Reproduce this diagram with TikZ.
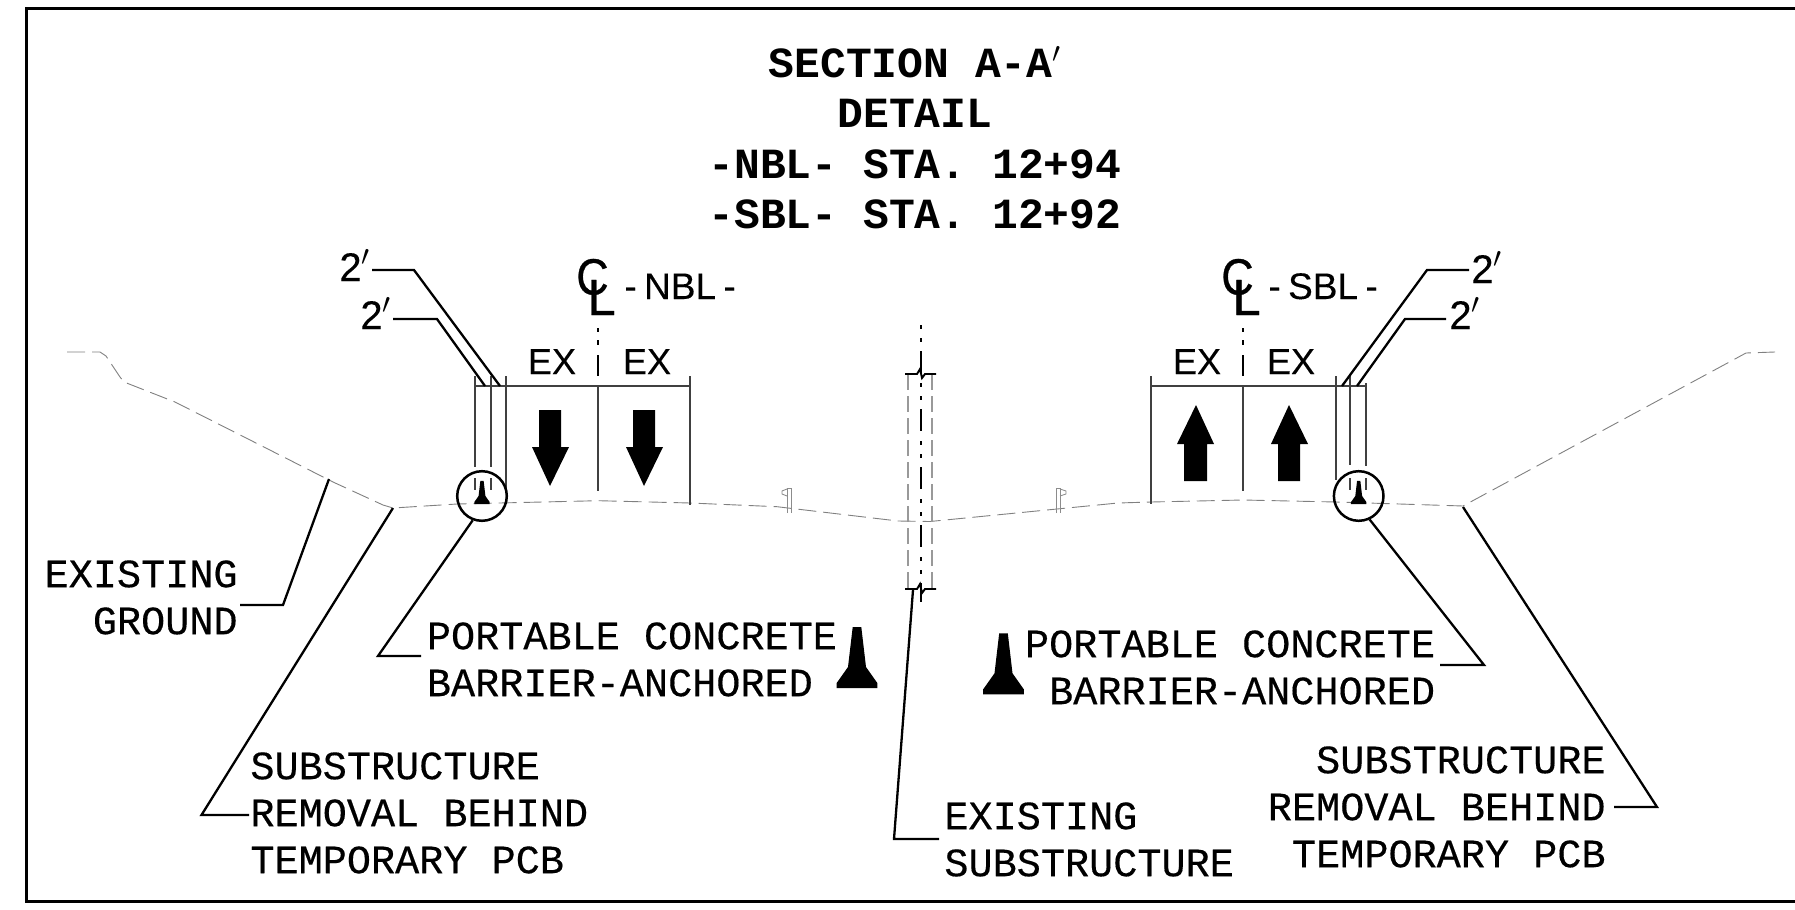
\documentclass[tikz,border=0pt]{standalone}
\usepackage{amsmath,amssymb}
\usepackage{xcolor}
\usepackage{fontspec}
\usepackage{tikz}
\newfontfamily\planmono[FakeBold=0.35]{Liberation Mono}
\newfontfamily\planbold{Liberation Mono Bold}
\newfontfamily\plansans[FakeBold=0.2]{Liberation Sans}
\newfontfamily\planheavy[FakeBold=0.6]{Liberation Sans}
\begin{document}
\begin{tikzpicture}[x=0.5pt,y=-0.5pt,
  frameline/.style={black,line width=1.25pt},
  leader/.style={black,line width=1.15pt},
  dimline/.style={black!75,line width=0.6pt},
  groundline/.style={black!50,line width=0.45pt,dash pattern=on 9pt off 3.5pt},
  medianline/.style={black!40,line width=0.6pt,dash pattern=on 8pt off 3pt},
  breakline/.style={black,line width=0.95pt},
  title/.style={inner sep=0pt,align=center,anchor=south,font=\planbold\fontsize{21.5}{25.25}\selectfont},
  lbl/.style={inner sep=0pt,font=\planmono\fontsize{20.1}{23.5}\selectfont},
  lbll/.style={lbl,align=left,anchor=south west},
  lblr/.style={lbl,align=right,anchor=south east},
  sanslbl/.style={inner sep=0pt,anchor=base west,font=\plansans\fontsize{18.5}{20}\selectfont},
  twolbl/.style={inner sep=0pt,anchor=base west,font=\plansans\fontsize{20}{22}\selectfont},
  exlbl/.style={inner sep=0pt,anchor=base,font=\plansans\fontsize{18}{20}\selectfont},
  clsym/.style={inner sep=0pt,font=\planheavy\fontsize{25.5}{28}\selectfont},
  detail/.style={draw=black,line width=1.25pt,circle,minimum size=24.8pt,inner sep=0pt},
  barrier/.pic={\fill[black] (-20.3,0) -- (-20.3,-5) -- (-9,-21) -- (-4.3,-61) -- (4.3,-61) -- (9,-21) -- (20.3,-5) -- (20.3,0) -- cycle;}]
\useasboundingbox (0,0) rectangle (1795,910);
\draw [frameline] (1795,8.5) -- (26.5,8.5) -- (26.5,901.7) -- (1795,901.7);
\node [title] (sectitle) at (915,229.5) {SECTION A-A$'$\\DETAIL\\-NBL- STA. 12+94\\-SBL- STA. 12+92};
\draw [groundline] (67,352) -- (100,352) -- (106,356) -- (120,377) -- (124,382) -- (175,402) -- (333,482) -- (383,505) -- (393,508) -- (457,504) -- (598,500.7) -- (690,503) -- (777,506.7) -- (898,521) -- (930,521.5) -- (1118,503) -- (1151,502) -- (1243,500) -- (1336,502) -- (1463,506) -- (1746,353) -- (1775,352);
\draw [dimline] (475,386) -- (690,386);
\draw [dimline] (475,376) -- (475,467);
\draw [dimline] (491,376) -- (491,467);
\draw [dimline] (506,376) -- (506,492);
\draw [dimline] (598,386) -- (598,491);
\draw [dimline] (690,376) -- (690,505);
\draw [dimline] (475,478) -- (475,490);
\draw [dimline] (491,478) -- (491,490);
\draw [dimline] (1151,386) -- (1366,386);
\draw [dimline] (1151,376) -- (1151,504);
\draw [dimline] (1243,386) -- (1243,491);
\draw [dimline] (1336,376) -- (1336,480);
\draw [dimline] (1350,376) -- (1350,465);
\draw [dimline] (1366,383) -- (1366,466);
\draw [dimline] (1350,478) -- (1350,490);
\draw [dimline] (1366,478) -- (1366,490);
\draw [black,line width=0.75pt,dash pattern=on 2pt off 4pt on 2.5pt off 5pt on 10.5pt off 5pt] (598,328) -- (598,376);
\draw [black,line width=0.75pt,dash pattern=on 2pt off 4pt on 2.5pt off 5pt on 10.5pt off 5pt] (1243,328) -- (1243,376);
\fill [black] (539,410) -- (561,410) -- (561,447) -- (569,447) -- (550,486) -- (532,447) -- (539,447) -- cycle;
\fill [black] (633,410) -- (655,410) -- (655,447) -- (663,447) -- (644,486) -- (626,447) -- (633,447) -- cycle;
\fill [black] (1184,481) -- (1207,481) -- (1207,444) -- (1214,444) -- (1196,405) -- (1177,444) -- (1184,444) -- cycle;
\fill [black] (1278,481) -- (1300,481) -- (1300,444) -- (1308,444) -- (1289,405) -- (1271,444) -- (1278,444) -- cycle;
\node [detail] (pcbL) at (482,496) {};
\node [detail] (pcbR) at (1358.7,496) {};
\path (482,504) pic [scale=0.38] {barrier};
\path (1358.7,504) pic [scale=0.38] {barrier};
\path (857,688) pic {barrier};
\path (1003.5,694.3) pic {barrier};
\draw [medianline] (908,374) -- (908,588);
\draw [medianline] (932,374) -- (932,588);
\draw [black,line width=1.3pt,dash pattern=on 2pt off 4.5pt on 2pt off 4.5pt on 11pt off 5pt] (921,325) -- (921,602);
\draw [breakline] (905,374) -- (917,374) -- (920,369) -- (922,378) -- (925,374) -- (936,374);
\draw [breakline] (905,589) -- (917,589) -- (920,584) -- (922,593) -- (925,589) -- (936,589);
\draw [black!45,line width=0.45pt] (787,513) -- (787,488) -- (791,488) -- (791,513);
\draw [black!45,line width=0.45pt] (787,489) -- (782,491) -- (782,494) -- (787,496);
\draw [black!45,line width=0.45pt] (1056,513) -- (1056,488) -- (1060,488) -- (1060,513);
\draw [black!45,line width=0.45pt] (1060,489) -- (1066,491) -- (1066,494) -- (1060,496);
\node [clsym,anchor=base] (clCn) at (592.5,294.5) {\scalebox{0.88}[1]{C}};
\node [clsym,anchor=base west] (clLn) at (587,315) {L};
\node [clsym,anchor=base] (clCs) at (1237.5,294.5) {\scalebox{0.88}[1]{C}};
\node [clsym,anchor=base west] (clLs) at (1232,315) {L};
\node [sanslbl] (nbl) at (624,299) {-\hspace{3.7pt}NBL\hspace{3.7pt}-};
\node [sanslbl] (sbl) at (1268,299) {-\hspace{3.7pt}SBL\hspace{3.7pt}-};
\node [exlbl] (exA) at (552,374) {EX};
\node [exlbl] (exB) at (647,374) {EX};
\node [exlbl] (exC) at (1197,374) {EX};
\node [exlbl] (exD) at (1291,374) {EX};
\node [twolbl] (twoA) at (339,281) {2$'$};
\node [twolbl] (twoB) at (360,329) {2$'$};
\node [twolbl] (twoC) at (1471,283) {2$'$};
\node [twolbl] (twoD) at (1449,329) {2$'$};
\node [lblr] (exground) at (238,635) {EXISTING\\GROUND};
\node [lbll] (pcbtextL) at (426.5,697) {PORTABLE CONCRETE\\BARRIER-ANCHORED};
\node [lblr] (pcbtextR) at (1435.5,705) {PORTABLE CONCRETE\\BARRIER-ANCHORED};
\node [lbll] (subtextL) at (250,874) {SUBSTRUCTURE\\REMOVAL BEHIND\\TEMPORARY PCB};
\node [lblr] (subtextR) at (1606,868) {SUBSTRUCTURE\\REMOVAL BEHIND\\TEMPORARY PCB};
\node [lbll] (exsub) at (944,877) {EXISTING\\SUBSTRUCTURE};
\coordinate (gtip) at (329,479);
\coordinate (subtipL) at (393,508);
\coordinate (subtipR) at (1463,507);
\coordinate (exsubtip) at (913,590);
\coordinate (twotipA) at (500,386);
\coordinate (twotipB) at (485,386);
\coordinate (twotipC) at (1342,386);
\coordinate (twotipD) at (1357,386);
\draw [leader] (240,605) -- (283,605) -- (gtip);
\draw [leader] (249,815) -- (201.5,815) -- (subtipL);
\draw [leader] (pcbL.249) -- (378,656) -- (421,656);
\draw [leader] (pcbR.295) -- (1484,665) -- (1440,665);
\draw [leader] (1614,807) -- (1657,807) -- (subtipR);
\draw [leader] (939,839) -- (894,839) -- (exsubtip);
\draw [leader] (372,270) -- (414,270) -- (twotipA);
\draw [leader] (393,319) -- (437,319) -- (twotipB);
\draw [leader] (1469,270) -- (1427,270) -- (twotipC);
\draw [leader] (1446,319) -- (1405,319) -- (twotipD);
\end{tikzpicture}
\end{document}
